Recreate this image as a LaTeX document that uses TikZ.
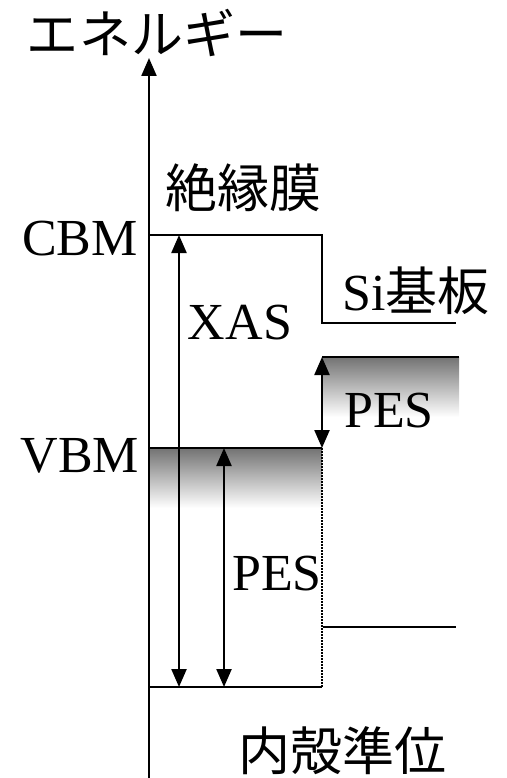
\documentclass[tikz,border=0pt]{standalone}
\usepackage{fontspec}
\setmainfont{Liberation Serif}
\newfontfamily\jp{Noto Sans CJK JP}
\usetikzlibrary{arrows.meta}
\begin{document}
\begin{tikzpicture}[x=1pt,y=-1pt,
  lvl/.style={line width=2.3pt},
  tipshape/.style={},
  dbl/.style={line width=2.3pt,{Triangle[width=15pt,length=18pt]}-{Triangle[width=15pt,length=18pt]}},
  lbl/.style={font=\fontsize{52}{60}\selectfont, inner sep=0pt},
  band/.style={top color=black!55, bottom color=white, draw=none}]
\useasboundingbox (0,0) rectangle (506,778);
% coordinates
\coordinate (axB) at (149,778);
\coordinate (axT) at (149,58);
\coordinate (cbmL) at (150,235);
\coordinate (cbmR) at (322,235);
\coordinate (siC) at (322,323);
\coordinate (siCR) at (456,323);
\coordinate (siVL) at (322,357);
\coordinate (siVR) at (459,357);
\coordinate (siVB) at (459,417);
\coordinate (vbmL) at (150,448);
\coordinate (vbmR) at (322,448);
\coordinate (vbmB) at (322,508);
\coordinate (coreL) at (150,687);
\coordinate (coreR) at (322,687);
\coordinate (siCoreL) at (323,627);
\coordinate (siCoreR) at (456,627);
\coordinate (xasT) at (179,235);
\coordinate (xasB) at (179,687);
\coordinate (pesLT) at (224,448);
\coordinate (pesLB) at (224,687);
% shaded bands
\shade[band] (vbmL) rectangle (vbmB);
\shade[band] (siVL) rectangle (siVB);
% levels
\draw[lvl] (cbmL) -- (cbmR) -- (siC) -- (siCR);
\draw[lvl] (siVL) -- (siVR);
\draw[lvl] (vbmL) -- (vbmR);
\draw[lvl] (coreL) -- (coreR);
\draw[lvl] (siCoreL) -- (siCoreR);
\draw[line width=1.2pt, dash pattern=on 1.5pt off 1.5pt] (vbmR) -- (coreR);
% axis
\draw[line width=2.3pt,-{Triangle[width=15pt,length=18pt]}] (axB) -- (axT);
% arrows
\draw[dbl] (xasB) -- (xasT);
\draw[dbl] (pesLB) -- (pesLT);
\draw[dbl] (vbmR) -- (siVL);
% labels
\node[lbl] (energy) at (157,33) {\jp エネルギー};
\node[lbl] (ins) at (243,188) {\jp 絶縁膜};
\node[lbl] (cbm) at (80,239) {CBM};
\node[lbl] (vbm) at (80,456) {VBM};
\node[lbl] (xas) at (240,323) {XAS};
\node[lbl] (pesR) at (389,411) {PES};
\node[lbl] (pesL) at (277,574) {PES};
\node[lbl,anchor=base west] (si) at (342,310) {Si{\jp 基板}};
\node[lbl] (core) at (342,751) {\jp 内殻準位};
\end{tikzpicture}
\end{document}
